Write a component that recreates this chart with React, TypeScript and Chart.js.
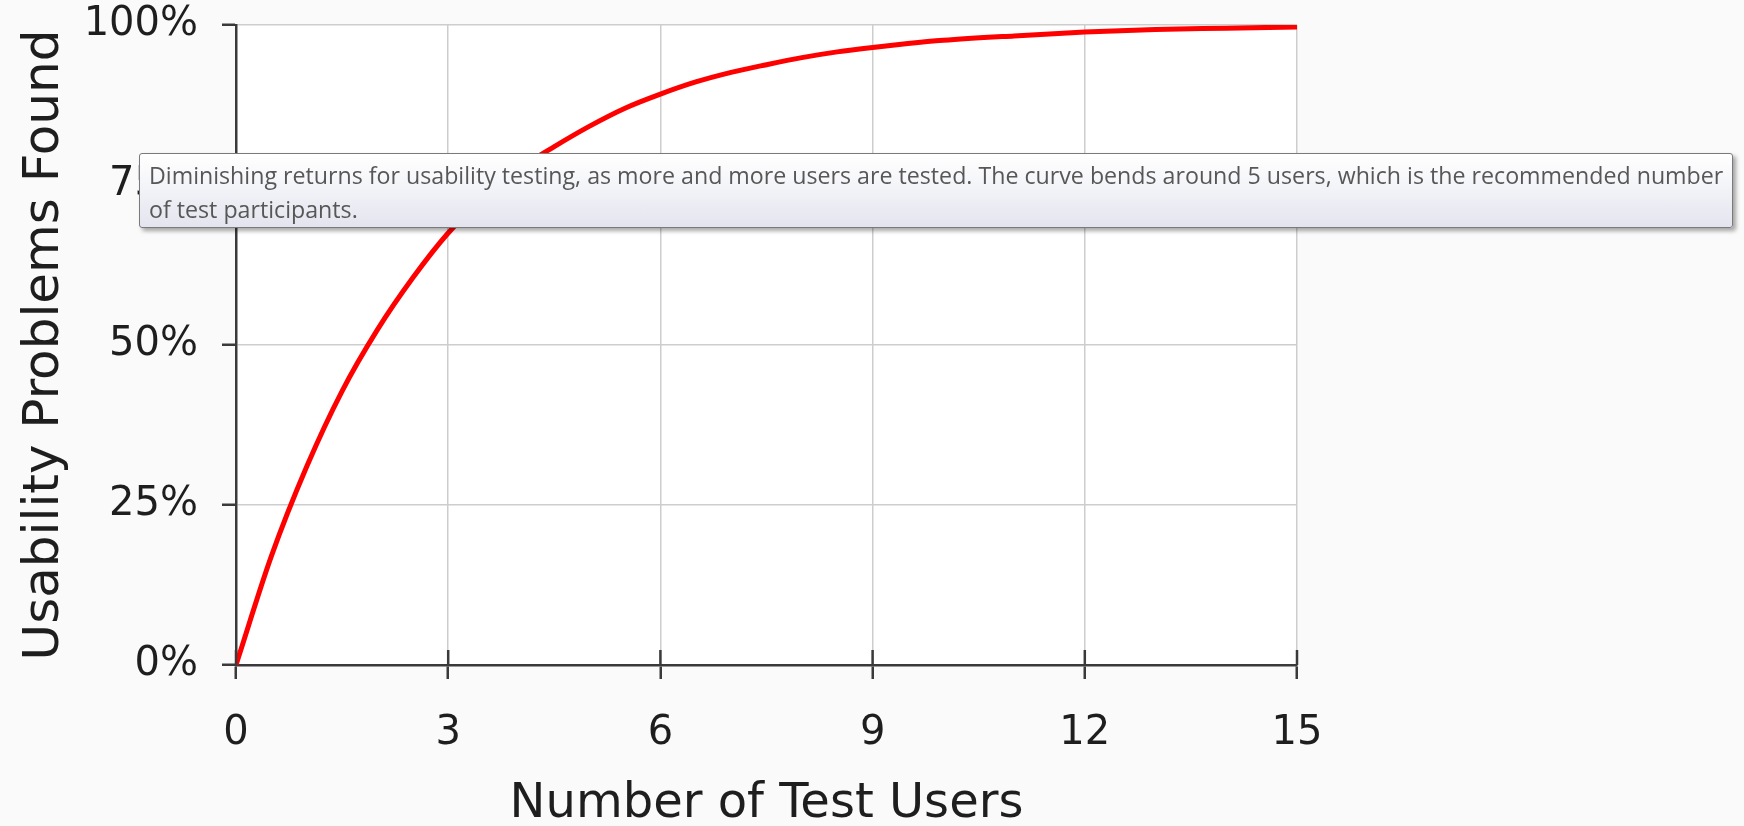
import React, { useEffect, useRef } from "react";
import { Chart, registerables } from "chart.js";

Chart.register(...registerables);

// Number of test users (x) and share of usability problems found (%)
const testUsers = [0, 0.5, 1, 1.5, 2, 2.5, 3, 3.5, 4, 4.5, 5, 5.5, 6, 6.5, 7, 7.5, 8, 8.5, 9, 9.5, 10, 11, 12, 13, 14, 15];
const problemsFound = [0, 17, 31, 42.8, 52.4, 60.5, 67.5, 73, 77.5, 81, 84.2, 87, 89.2, 91.1, 92.6, 93.8, 94.9, 95.8, 96.5, 97.1, 97.6, 98.3, 98.9, 99.3, 99.5, 99.7];
const xTickValues = [0, 3, 6, 9, 12, 15];
const yTickValues = [0, 25, 50, 75, 100];

const xTitle = "Number of Test Users";
const yTitle = "Usability Problems Found";
const tooltipLine1 =
  "Diminishing returns for usability testing, as more and more users are tested. The curve bends around 5 users, which is the recommended number";
const tooltipLine2 = "of test participants.";

const AXIS_FONT = "'DejaVu Sans', Verdana, sans-serif";

const decorPlugin = {
  id: "decor",
  beforeDraw(chart: any) {
    const { ctx, chartArea } = chart;
    ctx.save();
    ctx.fillStyle = "#f9faf9";
    ctx.fillRect(0, 0, chart.width, chart.height);
    ctx.fillStyle = "#ffffff";
    ctx.fillRect(chartArea.left, chartArea.top, chartArea.right - chartArea.left, chartArea.bottom - chartArea.top);
    ctx.restore();
  },
  afterDraw(chart: any) {
    const { ctx, chartArea } = chart;
    const xs = chart.scales.x;
    ctx.save();
    ctx.strokeStyle = "#3a3a3a";
    ctx.lineWidth = 2.5;
    xs.ticks.forEach((t: any) => {
      const px = xs.getPixelForValue(t.value);
      ctx.beginPath();
      ctx.moveTo(px, chartArea.bottom);
      ctx.lineTo(px, chartArea.bottom - 15);
      ctx.stroke();
    });
    ctx.restore();
  },
};

function ChartCanvas() {
  const ref = useRef<HTMLCanvasElement | null>(null);
  useEffect(() => {
    if (!ref.current) return;
    const chart = new Chart(ref.current, {
      type: "line",
      data: {
        datasets: [
          {
            data: testUsers.map((x, i) => ({ x, y: problemsFound[i] })),
            borderColor: "#ff0000",
            borderWidth: 5,
            pointRadius: 0,
            cubicInterpolationMode: "monotone",
            fill: false,
          },
        ],
      },
      options: {
        animation: false,
        responsive: true,
        maintainAspectRatio: false,
        layout: { padding: { top: 25, right: 447, left: 0, bottom: 0 } },
        plugins: { legend: { display: false }, tooltip: { enabled: false } },
        scales: {
          x: {
            type: "linear",
            min: 0,
            max: 15,
            afterBuildTicks: (scale: any) => {
              scale.ticks = xTickValues.map((v) => ({ value: v }));
            },
            afterFit: (scale: any) => {
              scale.height = 161;
              scale.paddingLeft = 0;
              scale.paddingRight = 0;
            },
            ticks: {
              font: { family: AXIS_FONT, size: 40 },
              color: "#1e1e1e",
              padding: 31,
              maxRotation: 0,
              autoSkip: false,
            },
            grid: {
              color: "#cdcdcd",
              lineWidth: 1.5,
              tickColor: "#3a3a3a",
              tickWidth: 2.5,
              tickLength: 14,
            },
            border: { color: "#3a3a3a", width: 2.5 },
            title: {
              display: true,
              text: xTitle,
              font: { family: AXIS_FONT, size: 48, lineHeight: 0.9 },
              color: "#1e1e1e",
              padding: { top: 0, bottom: 0 },
            },
          },
          y: {
            type: "linear",
            min: 0,
            max: 100,
            afterBuildTicks: (scale: any) => {
              scale.ticks = yTickValues.map((v) => ({ value: v }));
            },
            afterFit: (scale: any) => {
              scale.width = 236;
              scale.paddingTop = 0;
              scale.paddingBottom = 0;
            },
            ticks: {
              font: { family: AXIS_FONT, size: 40 },
              color: "#1e1e1e",
              padding: 24,
              callback: (v: any) => v + "%",
            },
            grid: {
              color: "#cdcdcd",
              lineWidth: 1.5,
              tickColor: "#3a3a3a",
              tickWidth: 2.5,
              tickLength: 14,
            },
            border: { color: "#3a3a3a", width: 2.5 },
            title: {
              display: true,
              text: yTitle,
              font: { family: AXIS_FONT, size: 50, lineHeight: 1.2 },
              color: "#1e1e1e",
              padding: { top: 15, bottom: 0 },
            },
          },
        },
      },
      plugins: [decorPlugin],
    } as any);
    return () => chart.destroy();
  }, []);
  return <canvas ref={ref} />;
}

export default function App() {
  return (
    <div style={{ position: "fixed", left: 0, top: 0, width: 1744, height: 826, background: "#f9faf9", overflow: "hidden" }}>
      <div style={{ position: "absolute", left: 0, top: 0, width: 1744, height: 826 }}>
        <ChartCanvas />
      </div>
      <div
        style={{
          position: "absolute",
          left: 139,
          top: 153,
          width: 1594,
          height: 75,
          boxSizing: "border-box",
          border: "1px solid #7a7a7a",
          borderRadius: 3,
          background: "linear-gradient(to bottom, #ffffff 0%, #f3f4f8 45%, #e3e4ee 100%)",
          boxShadow: "3px 3px 4px rgba(0,0,0,0.35)",
          color: "#575757",
          fontFamily: "'Open Sans', 'Noto Sans', sans-serif",
          fontSize: 23.2,
          lineHeight: "34px",
          padding: "4px 0 0 9px",
          whiteSpace: "nowrap",
        }}
      >
        <div>{tooltipLine1}</div>
        <div>{tooltipLine2}</div>
      </div>
    </div>
  );
}
